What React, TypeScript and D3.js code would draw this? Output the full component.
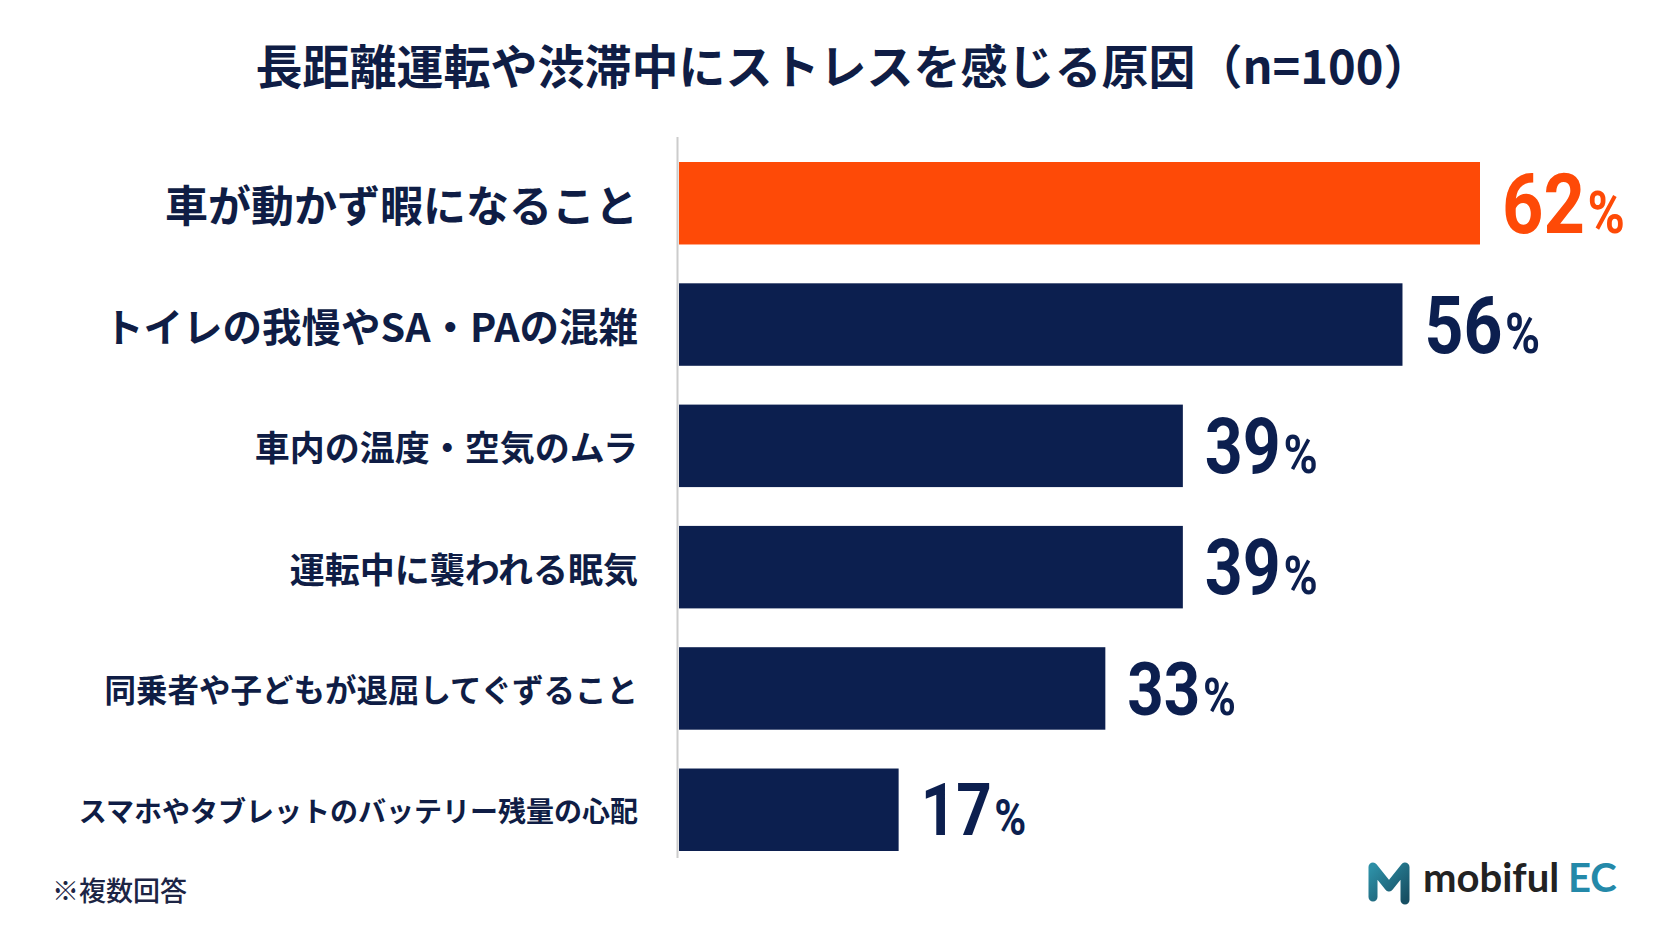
import React from "react";
import * as d3 from "d3";

// data
const categories = [
  "車が動かず暇になること",
  "トイレの我慢やSA・PAの混雑",
  "車内の温度・空気のムラ",
  "運転中に襲われる眠気",
  "同乗者や子どもが退屈してぐずること",
  "スマホやタブレットのバッテリー残量の心配",
];
const values = [62, 56, 39, 39, 33, 17];

const title = "長距離運転や渋滞中にストレスを感じる原因（n=100）";
const footnote = "※複数回答";

// styling
const W = 1672;
const H = 941;
const NAVY = "#0c1f4f";
const TEXT = "#0f1d45";
const ORANGE = "#fe4a07";
const labelFontSizes = [43, 39.5, 35, 35, 31.5, 28];
const valueFontSizes = [84, 79, 77, 77, 74, 72];
const JP = "'Noto Sans CJK JP', 'Noto Sans', sans-serif";

const App: React.FC = () => {
  const x = d3
    .scaleLinear()
    .domain([0, d3.max(values) as number])
    .range([679, 1480]);

  const y = d3
    .scaleBand<string>()
    .domain(categories)
    .range([162, 851])
    .paddingInner(0.32)
    .paddingOuter(0);

  return (
    <svg
      width={W}
      height={H}
      style={{ position: "absolute", left: 0, top: 0, display: "block", background: "#ffffff" }}
    >
      <rect x={0} y={0} width={W} height={H} fill="#ffffff" />

      <text
        x={843}
        y={63}
        textAnchor="middle"
        dominantBaseline="central"
        fontFamily={JP}
        fontWeight={700}
        fontSize={47}
        fill={TEXT}
      >
        {title}
      </text>

      {/* bars */}
      {categories.map((c, i) => (
        <rect
          key={c}
          x={x(0)}
          y={y(c)}
          width={x(values[i]) - x(0)}
          height={y.bandwidth()}
          fill={i === 0 ? ORANGE : NAVY}
        />
      ))}

      {/* axis line */}
      <line x1={677.5} x2={677.5} y1={137} y2={858} stroke="#cccccc" strokeWidth={2} />

      {/* category labels */}
      {categories.map((c, i) => (
        <text
          key={c}
          x={638}
          y={(y(c) as number) + y.bandwidth() / 2}
          textAnchor="end"
          dominantBaseline="central"
          fontFamily={JP}
          fontWeight={700}
          fontSize={labelFontSizes[i]}
          fill={TEXT}
        >
          {c}
        </text>
      ))}

      {/* value labels */}
      {categories.map((c, i) => {
        const fs = valueFontSizes[i];
        const cy = (y(c) as number) + y.bandwidth() / 2;
        return (
          <g key={c} transform={`translate(${x(values[i]) + 22},${cy + fs * 0.355}) scale(0.86,1)`}>
            <text
              x={0}
              y={0}
              fontFamily="Roboto, 'DejaVu Sans', sans-serif"
              fontWeight={700}
              fontSize={fs}
              fill={i === 0 ? ORANGE : NAVY}
            >
              {values[i]}
              <tspan fontSize={fs * 0.7} dx={3}>
                %
              </tspan>
            </text>
          </g>
        );
      })}

      <text
        x={52}
        y={889}
        dominantBaseline="central"
        fontFamily={JP}
        fontWeight={500}
        fontSize={27}
        fill="#1d2545"
      >
        {footnote}
      </text>

      {/* logo */}
      <defs>
        <linearGradient id="mgrad" x1="0" x2="1" y1="0" y2="1">
          <stop offset="0%" stopColor="#2d8fa6" />
          <stop offset="100%" stopColor="#174f63" />
        </linearGradient>
      </defs>
      <path
        d="M1373,897 L1373,867 L1389,887 L1405,867 L1405,900"
        fill="none"
        stroke="url(#mgrad)"
        strokeWidth={9}
        strokeLinecap="round"
        strokeLinejoin="round"
      />
      <text
        x={1423}
        y={892}
        fontFamily="Lato, 'Open Sans', sans-serif"
        fontWeight={700}
        fontSize={40}
        fill="#222222"
      >
        mobiful
        <tspan dx={9} fill="#2489a9">
          EC
        </tspan>
      </text>
    </svg>
  );
};

export default App;
